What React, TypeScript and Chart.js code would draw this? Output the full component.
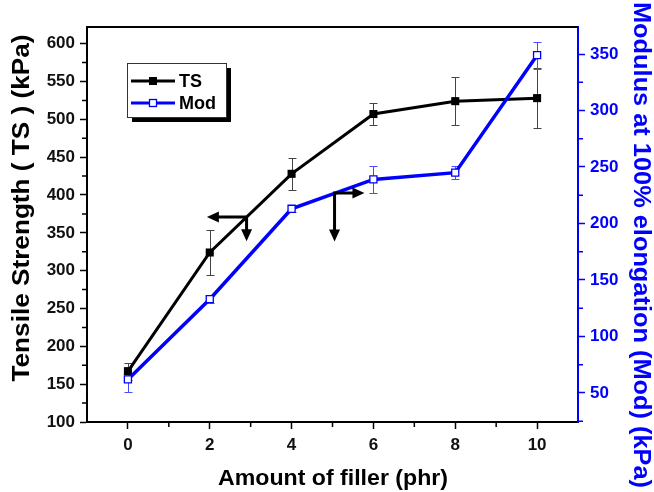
import React, { useEffect, useRef } from 'react';
import { Chart, registerables } from 'chart.js';

Chart.register(...registerables);

// ---- data ----
const fillerPhr = [0, 2, 4, 6, 8, 10];
const tsValues = [167, 324, 428, 507, 524, 528];
const tsErrors = [11, 30, 21, 15, 32, 40];
const modValues = [62, 133, 213, 239, 245, 349];
const modErrors = [11, 3, 3, 12, 6, 12];

const xTickValues = [0, 2, 4, 6, 8, 10];
const xMinorValues = [1, 3, 5, 7, 9];
const leftTickValues = [100, 150, 200, 250, 300, 350, 400, 450, 500, 550, 600];
const leftMinorValues = [125, 175, 225, 275, 325, 375, 425, 475, 525, 575];
const rightTickValues = [50, 100, 150, 200, 250, 300, 350];
const rightMinorValues = [25, 75, 125, 175, 225, 275, 325];

// annotation arrows (corner, horizontal arm end, vertical arm end) in data units
const arrowAxis = ['y', 'y1'];
const arrowCornerX = [2.9, 5.05];
const arrowCornerY = [371, 227];
const arrowHorizToX = [1.93, 5.78];
const arrowVertToY = [339, 184];

const legendLabels = ['TS', 'Mod'];
const xTitle = 'Amount of filler (phr)';
const leftTitle = 'Tensile Strength ( TS ) (kPa)';
const rightTitle = 'Modulus at 100% elongation (Mod) (kPa)';

const BLUE = '#0000ff';
const FONT = '"Liberation Sans", Arial, Helvetica, sans-serif';

function arrowHead(ctx: CanvasRenderingContext2D, x: number, y: number, dx: number, dy: number, len: number, half: number) {
  ctx.beginPath();
  ctx.moveTo(x, y);
  ctx.lineTo(x - dx * len - dy * half, y - dy * len + dx * half);
  ctx.lineTo(x - dx * len + dy * half, y - dy * len - dx * half);
  ctx.closePath();
  ctx.fill();
}

function drawStretchedText(ctx: CanvasRenderingContext2D, text: string, cx: number, cy: number, rot: number, size: number, length: number, color: string, baselineOffset: number) {
  ctx.save();
  ctx.font = `bold ${size}px ${FONT}`;
  const w = ctx.measureText(text).width;
  ctx.translate(cx, cy);
  ctx.rotate(rot);
  ctx.scale(length / w, 1);
  ctx.fillStyle = color;
  ctx.textAlign = 'center';
  ctx.textBaseline = 'alphabetic';
  ctx.fillText(text, 0, baselineOffset);
  ctx.restore();
}

const decorPlugin = {
  id: 'decor',
  beforeDatasetsDraw(chart: any) {
    const ctx: CanvasRenderingContext2D = chart.ctx;
    const xs = chart.scales.x;
    const ys = chart.scales.y;
    const y1 = chart.scales.y1;
    const drawErr = (vals: number[], errs: number[], scale: any, color: string) => {
      ctx.save();
      ctx.strokeStyle = color;
      ctx.lineWidth = 1;
      vals.forEach((v, i) => {
        const px = Math.round(xs.getPixelForValue(fillerPhr[i])) + 0.5;
        const top = Math.round(scale.getPixelForValue(v + errs[i])) + 0.5;
        const bot = Math.round(scale.getPixelForValue(v - errs[i])) + 0.5;
        ctx.beginPath();
        ctx.moveTo(px, top);
        ctx.lineTo(px, bot);
        ctx.moveTo(px - 4, top);
        ctx.lineTo(px + 4, top);
        ctx.moveTo(px - 4, bot);
        ctx.lineTo(px + 4, bot);
        ctx.stroke();
      });
      ctx.restore();
    };
    drawErr(tsValues, tsErrors, ys, '#444444');
    drawErr(modValues, modErrors, y1, '#4a4aff');
  },
  afterDatasetsDraw(chart: any) {
    const ctx: CanvasRenderingContext2D = chart.ctx;
    const area = chart.chartArea;
    const xs = chart.scales.x;
    const ys = chart.scales.y;
    const y1 = chart.scales.y1;

    // arrows
    ctx.save();
    ctx.strokeStyle = '#000';
    ctx.fillStyle = '#000';
    ctx.lineWidth = 3;
    for (let i = 0; i < arrowAxis.length; i++) {
      const sc = chart.scales[arrowAxis[i]];
      const cx = xs.getPixelForValue(arrowCornerX[i]);
      const cy = sc.getPixelForValue(arrowCornerY[i]);
      const hx = xs.getPixelForValue(arrowHorizToX[i]);
      const vy = sc.getPixelForValue(arrowVertToY[i]);
      const dirH = hx < cx ? -1 : 1;
      const len = 11;
      ctx.beginPath();
      ctx.moveTo(cx - dirH * 1.5, cy);
      ctx.lineTo(hx - dirH * len, cy);
      ctx.moveTo(cx, cy - 1.5);
      ctx.lineTo(cx, vy - len);
      ctx.stroke();
      arrowHead(ctx, hx, cy, dirH, 0, len + 1, 5.5);
      arrowHead(ctx, cx, vy, 0, 1, len + 1, 5.5);
    }
    ctx.restore();

    // top frame line
    ctx.save();
    ctx.strokeStyle = '#000';
    ctx.lineWidth = 2;
    ctx.beginPath();
    ctx.moveTo(area.left - 1, area.top);
    ctx.lineTo(area.right, area.top);
    ctx.stroke();
    ctx.restore();

    // minor ticks
    ctx.save();
    ctx.lineWidth = 1.5;
    ctx.strokeStyle = '#000';
    ctx.beginPath();
    leftMinorValues.forEach((v) => {
      const p = ys.getPixelForValue(v);
      ctx.moveTo(area.left - 1, p);
      ctx.lineTo(area.left - 5, p);
    });
    xMinorValues.forEach((v) => {
      const p = xs.getPixelForValue(v);
      ctx.moveTo(p, area.bottom + 1);
      ctx.lineTo(p, area.bottom + 5);
    });
    ctx.stroke();
    ctx.strokeStyle = BLUE;
    ctx.beginPath();
    rightMinorValues.forEach((v) => {
      const p = y1.getPixelForValue(v);
      if (p < area.top || p > area.bottom) return;
      ctx.moveTo(area.right + 1, p);
      ctx.lineTo(area.right + 5, p);
    });
    ctx.stroke();
    ctx.restore();

    // legend
    ctx.save();
    const lx = 127, ly = 63, lw = 99, lh = 54;
    ctx.fillStyle = '#000';
    ctx.fillRect(lx + 5, ly + 5, lw, lh);
    ctx.fillStyle = '#fff';
    ctx.fillRect(lx, ly, lw, lh);
    ctx.strokeStyle = '#333';
    ctx.lineWidth = 1;
    ctx.strokeRect(lx + 0.5, ly + 0.5, lw, lh);
    const rows = [ly + 18, ly + 40];
    const colors = ['#000', BLUE];
    legendLabels.forEach((lab, i) => {
      const yy = rows[i];
      ctx.strokeStyle = colors[i];
      ctx.lineWidth = 3;
      ctx.beginPath();
      ctx.moveTo(lx + 4, yy);
      ctx.lineTo(lx + 48, yy);
      ctx.stroke();
      if (i === 0) {
        ctx.fillStyle = '#000';
        ctx.fillRect(lx + 22, yy - 4, 8, 8);
      } else {
        ctx.fillStyle = '#fff';
        ctx.fillRect(lx + 22, yy - 4, 8, 8);
        ctx.strokeStyle = BLUE;
        ctx.lineWidth = 1.3;
        ctx.strokeRect(lx + 22.5, yy - 3.5, 7, 7);
      }
      ctx.fillStyle = '#000';
      ctx.font = `bold 18px ${FONT}`;
      ctx.textAlign = 'left';
      ctx.textBaseline = 'middle';
      ctx.fillText(lab, lx + 52, yy + 1);
    });
    ctx.restore();

    // axis titles
    drawStretchedText(ctx, leftTitle, 29, 208, -Math.PI / 2, 23, 347, '#000', 0);
    drawStretchedText(ctx, rightTitle, 634, 245, Math.PI / 2, 23, 486, BLUE, 0);
    drawStretchedText(ctx, xTitle, 333, 485, 0, 22, 230, '#000', 0);
  },
};

const tickFont = { family: FONT, size: 17, weight: 'bold' as const };

export default function App() {
  const ref = useRef<HTMLCanvasElement | null>(null);
  useEffect(() => {
    if (!ref.current) return;
    const chart = new Chart(ref.current, {
      type: 'line',
      data: {
        datasets: [
          {
            label: 'Mod',
            data: fillerPhr.map((x, i) => ({ x, y: modValues[i] })),
            yAxisID: 'y1',
            borderColor: BLUE,
            borderWidth: 3.5,
            pointStyle: 'rect',
            pointRadius: 5,
            pointBackgroundColor: '#fff',
            pointBorderColor: BLUE,
            pointBorderWidth: 1.3,
            tension: 0,
            order: 0,
          },
          {
            label: 'TS',
            data: fillerPhr.map((x, i) => ({ x, y: tsValues[i] })),
            yAxisID: 'y',
            borderColor: '#000',
            borderWidth: 3,
            pointStyle: 'rect',
            pointRadius: 5.7,
            pointBackgroundColor: '#000',
            pointBorderColor: '#000',
            pointBorderWidth: 0,
            tension: 0,
            order: 1,
          },
        ],
      },
      options: {
        responsive: false,
        animation: false,
        devicePixelRatio: 1,
        layout: { padding: { top: 27, left: 0, right: 0, bottom: 0 } },
        plugins: { legend: { display: false }, tooltip: { enabled: false } },
        scales: {
          x: {
            type: 'linear',
            min: -1,
            max: 11,
            afterBuildTicks: (s: any) => {
              s.ticks = xTickValues.map((v) => ({ value: v }));
            },
            afterFit: (s: any) => {
              s.height = 70;
            },
            grid: { drawOnChartArea: false, drawTicks: true, tickLength: 7, tickColor: '#000', tickWidth: 1.5 },
            border: { display: true, color: '#000', width: 2 },
            ticks: { font: tickFont, color: '#111', padding: 6, maxRotation: 0, autoSkip: false, callback: (v: any) => String(v) },
          },
          y: {
            type: 'linear',
            position: 'left',
            min: 100,
            max: 622,
            afterBuildTicks: (s: any) => {
              s.ticks = leftTickValues.map((v) => ({ value: v }));
            },
            afterFit: (s: any) => {
              s.width = 87;
            },
            grid: { drawOnChartArea: false, drawTicks: true, tickLength: 7, tickColor: '#000', tickWidth: 1.5 },
            border: { display: true, color: '#000', width: 2 },
            ticks: { font: tickFont, color: '#111', padding: 5, autoSkip: false, callback: (v: any) => String(v) },
          },
          y1: {
            type: 'linear',
            position: 'right',
            min: 24.3,
            max: 373.9,
            afterBuildTicks: (s: any) => {
              s.ticks = rightTickValues.map((v) => ({ value: v }));
            },
            afterFit: (s: any) => {
              s.width = 76;
            },
            grid: { drawOnChartArea: false, drawTicks: true, tickLength: 7, tickColor: BLUE, tickWidth: 1.5 },
            border: { display: true, color: BLUE, width: 2 },
            ticks: { font: tickFont, color: BLUE, padding: 5, autoSkip: false, callback: (v: any) => String(v) },
          },
        },
      },
      plugins: [decorPlugin],
    } as any);
    return () => chart.destroy();
  }, []);
  return (
    <div style={{ position: 'absolute', left: 0, top: 0, width: 654, height: 492, background: '#fff' }}>
      <canvas ref={ref} width={654} height={492} style={{ display: 'block' }} />
    </div>
  );
}
